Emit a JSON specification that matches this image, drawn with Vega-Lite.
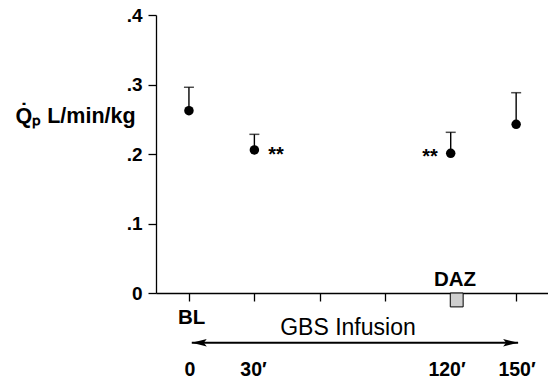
{
  "$schema": "https://vega.github.io/schema/vega-lite/v6.json",
  "autosize": "none",
  "width": 392,
  "height": 278,
  "padding": {"left": 156, "top": 15, "right": 0, "bottom": 88},
  "background": "white",
  "config": {
    "view": {"stroke": null},
    "font": "Liberation Sans",
    "axis": {"domainColor": "black", "tickColor": "black", "labelColor": "black", "titleColor": "black", "grid": false, "domainWidth": 1.3, "tickWidth": 1.3}
  },
  "datasets": {
    "pts": [
      {"t": 0, "m": 0.2623, "u": 0.296},
      {"t": 30, "m": 0.2058, "u": 0.2283},
      {"t": 120, "m": 0.201, "u": 0.2312},
      {"t": 150, "m": 0.2427, "u": 0.2882}
    ],
    "bold": [
      {"x": 1.2, "y": -0.0353, "label": "BL"},
      {"x": 122, "y": 0.0187, "label": "DAZ"}
    ],
    "plain": [
      {"x": 0.5, "y": -0.1094, "label": "0"},
      {"x": 29.6, "y": -0.1094, "label": "30′"},
      {"x": 118.3, "y": -0.1094, "label": "120′"},
      {"x": 150.4, "y": -0.1094, "label": "150′"}
    ]
  },
  "layer": [
    {
      "data": {"name": "pts"},
      "mark": {"type": "rule", "color": "black", "strokeWidth": 1.4},
      "encoding": {
        "x": {"field": "t", "type": "quantitative", "scale": {"domain": [-15.1, 164.6], "nice": false, "zero": false},
          "axis": {"values": [0, 30, 60, 90, 150], "labels": false, "title": null, "tickSize": 8}},
        "y": {"field": "m", "type": "quantitative", "scale": {"domain": [0, 0.4], "nice": false},
          "axis": {"values": [0, 0.1, 0.2, 0.3, 0.4], "tickSize": 8, "labelPadding": 6, "labelFontSize": 19, "labelFontWeight": "bold",
            "labelExpr": "datum.value == 0 ? '0' : replace(format(datum.value, '.1f'), '0.', '.')",
            "title": "Q̇ₚ L/min/kg", "titleAngle": 0, "titleAlign": "left", "titleBaseline": "alphabetic",
            "titleX": -141, "titleY": 107, "titleFontSize": 21.5, "titleFontWeight": "bold"}},
        "y2": {"field": "u"}
      }
    },
    {
      "data": {"name": "pts"},
      "mark": {"type": "tick", "orient": "horizontal", "color": "black", "size": 10, "thickness": 1.5},
      "encoding": {
        "x": {"field": "t", "type": "quantitative"},
        "y": {"field": "u", "type": "quantitative"}
      }
    },
    {
      "data": {"name": "pts"},
      "mark": {"type": "point", "filled": true, "color": "black", "size": 90, "opacity": 1},
      "encoding": {
        "x": {"field": "t", "type": "quantitative"},
        "y": {"field": "m", "type": "quantitative"}
      }
    },
    {
      "data": {"values": [{"x": 39.9, "y": 0.2065, "label": "**"}, {"x": 110.5, "y": 0.2047, "label": "**"}]},
      "mark": {"type": "text", "font": "Liberation Sans", "fontSize": 20, "fontWeight": "bold", "baseline": "middle", "dy": 6, "color": "black"},
      "encoding": {
        "x": {"field": "x", "type": "quantitative"},
        "y": {"field": "y", "type": "quantitative"},
        "text": {"field": "label"}
      }
    },
    {
      "data": {"values": [{"x": 119.8, "x2": 125.7, "y": 0, "y2": -0.02}]},
      "mark": {"type": "rect", "fill": "#cfcfcf", "stroke": "black", "strokeWidth": 1},
      "encoding": {
        "x": {"field": "x", "type": "quantitative"},
        "x2": {"field": "x2"},
        "y": {"field": "y", "type": "quantitative"},
        "y2": {"field": "y2"}
      }
    },
    {
      "data": {"values": [{"x": 1.3, "x2": 150.9, "y": -0.0715}]},
      "mark": {"type": "rule", "color": "black", "strokeWidth": 2},
      "encoding": {
        "x": {"field": "x", "type": "quantitative"},
        "x2": {"field": "x2"},
        "y": {"field": "y", "type": "quantitative"}
      }
    },
    {
      "data": {"values": [{"x": 1.3, "y": -0.0715}]},
      "mark": {"type": "point", "filled": true, "color": "black", "opacity": 1, "size": 225, "shape": "M 0 0 L 2 -0.5 L 1.6 0 L 2 0.5 Z"},
      "encoding": {
        "x": {"field": "x", "type": "quantitative"},
        "y": {"field": "y", "type": "quantitative"}
      }
    },
    {
      "data": {"values": [{"x": 150.9, "y": -0.0715}]},
      "mark": {"type": "point", "filled": true, "color": "black", "opacity": 1, "size": 225, "shape": "M 0 0 L -2 -0.5 L -1.6 0 L -2 0.5 Z"},
      "encoding": {
        "x": {"field": "x", "type": "quantitative"},
        "y": {"field": "y", "type": "quantitative"}
      }
    },
    {
      "data": {"name": "bold"},
      "mark": {"type": "text", "fontSize": 20.5, "fontWeight": "bold", "baseline": "middle", "dy": 0, "color": "black"},
      "encoding": {
        "x": {"field": "x", "type": "quantitative"},
        "y": {"field": "y", "type": "quantitative"},
        "text": {"field": "label"}
      }
    },
    {
      "data": {"values": [{"x": 72.9, "y": -0.0489, "label": "GBS Infusion"}]},
      "mark": {"type": "text", "fontSize": 23, "baseline": "middle", "dy": 1, "color": "black"},
      "encoding": {
        "x": {"field": "x", "type": "quantitative"},
        "y": {"field": "y", "type": "quantitative"},
        "text": {"field": "label"}
      }
    },
    {
      "data": {"name": "plain"},
      "mark": {"type": "text", "fontSize": 19.5, "fontWeight": "bold", "baseline": "middle", "dy": 1, "color": "black"},
      "encoding": {
        "x": {"field": "x", "type": "quantitative"},
        "y": {"field": "y", "type": "quantitative"},
        "text": {"field": "label"}
      }
    }
  ]
}
